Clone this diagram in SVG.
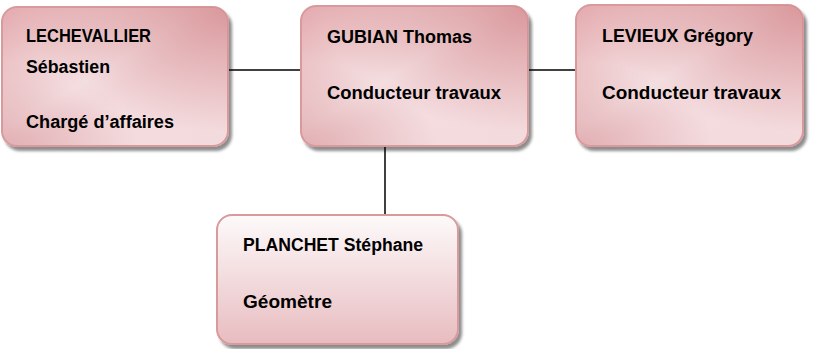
<svg xmlns="http://www.w3.org/2000/svg" width="813" height="349" viewBox="0 0 813 349">
<defs>
<linearGradient id="g1" x1="0" y1="0" x2="1" y2="1">
<stop offset="0" stop-color="#e3a9ad"/>
<stop offset="0.45" stop-color="#f6e4e6"/>
<stop offset="0.55" stop-color="#f4dde0"/>
<stop offset="1" stop-color="#f3dadc"/>
</linearGradient>
<radialGradient id="g1b" cx="1" cy="0" r="0.9">
<stop offset="0" stop-color="#d68f93" stop-opacity="0.9"/>
<stop offset="1" stop-color="#d68f93" stop-opacity="0"/>
</radialGradient>
<radialGradient id="g1c" cx="0" cy="1" r="0.6">
<stop offset="0" stop-color="#d9999d" stop-opacity="0.7"/>
<stop offset="1" stop-color="#d9999d" stop-opacity="0"/>
</radialGradient>
<linearGradient id="g2" x1="0" y1="0" x2="0" y2="1">
<stop offset="0" stop-color="#fdfafa"/>
<stop offset="1" stop-color="#e8bcc0"/>
</linearGradient>
<filter id="sh" x="-5%" y="-5%" width="115%" height="120%">
<feGaussianBlur in="SourceAlpha" stdDeviation="1.5"/>
<feOffset dx="3" dy="4"/>
<feComponentTransfer><feFuncA type="linear" slope="0.45"/></feComponentTransfer>
<feMerge><feMergeNode/><feMergeNode in="SourceGraphic"/></feMerge>
</filter>
</defs>
<style>
.box{stroke:#d99a9c;stroke-width:2}
.ov{stroke:none}
text{font-family:"Liberation Sans",Arial,sans-serif;font-weight:bold;font-size:18px;fill:#000}
.c{stroke:#000;stroke-width:1.5;fill:none}
</style>
<g id="connectors">
<line class="c" x1="228" y1="70" x2="302" y2="70"/>
<line class="c" x1="528" y1="70" x2="577" y2="70"/>
<line class="c" x1="385" y1="146" x2="385" y2="216"/>
</g>
<g id="n1">
<g filter="url(#sh)"><rect class="box" x="2" y="7" width="226" height="139" rx="15" fill="url(#g1)"/></g>
<rect class="ov" x="2" y="7" width="226" height="139" rx="15" fill="url(#g1b)"/>
<rect class="ov" x="2" y="7" width="226" height="139" rx="15" fill="url(#g1c)"/>
<text x="26" y="42" textLength="125" lengthAdjust="spacingAndGlyphs">LECHEVALLIER</text>
<text x="26" y="73" textLength="84" lengthAdjust="spacingAndGlyphs">Sébastien</text>
<text x="26" y="128" textLength="148" lengthAdjust="spacingAndGlyphs">Chargé d’affaires</text>
</g>
<g id="n2">
<g filter="url(#sh)"><rect class="box" x="301" y="6" width="227" height="140" rx="15" fill="url(#g1)"/></g>
<rect class="ov" x="301" y="6" width="227" height="140" rx="15" fill="url(#g1b)"/>
<rect class="ov" x="301" y="6" width="227" height="140" rx="15" fill="url(#g1c)"/>
<text x="327" y="43" textLength="145" lengthAdjust="spacingAndGlyphs">GUBIAN Thomas</text>
<text x="327" y="99" textLength="174" lengthAdjust="spacingAndGlyphs">Conducteur travaux</text>
</g>
<g id="n3">
<g filter="url(#sh)"><rect class="box" x="576" y="5" width="227" height="141" rx="15" fill="url(#g1)"/></g>
<rect class="ov" x="576" y="5" width="227" height="141" rx="15" fill="url(#g1b)"/>
<rect class="ov" x="576" y="5" width="227" height="141" rx="15" fill="url(#g1c)"/>
<text x="602" y="42" textLength="151" lengthAdjust="spacingAndGlyphs">LEVIEUX Grégory</text>
<text x="602" y="99" textLength="179" lengthAdjust="spacingAndGlyphs">Conducteur travaux</text>
</g>
<g id="n4">
<g filter="url(#sh)"><rect class="box" x="217" y="215" width="241" height="129" rx="15" fill="url(#g2)"/></g>
<text x="243" y="251" textLength="180" lengthAdjust="spacingAndGlyphs">PLANCHET Stéphane</text>
<text x="243" y="308" textLength="89" lengthAdjust="spacingAndGlyphs">Géomètre</text>
</g>
</svg>
